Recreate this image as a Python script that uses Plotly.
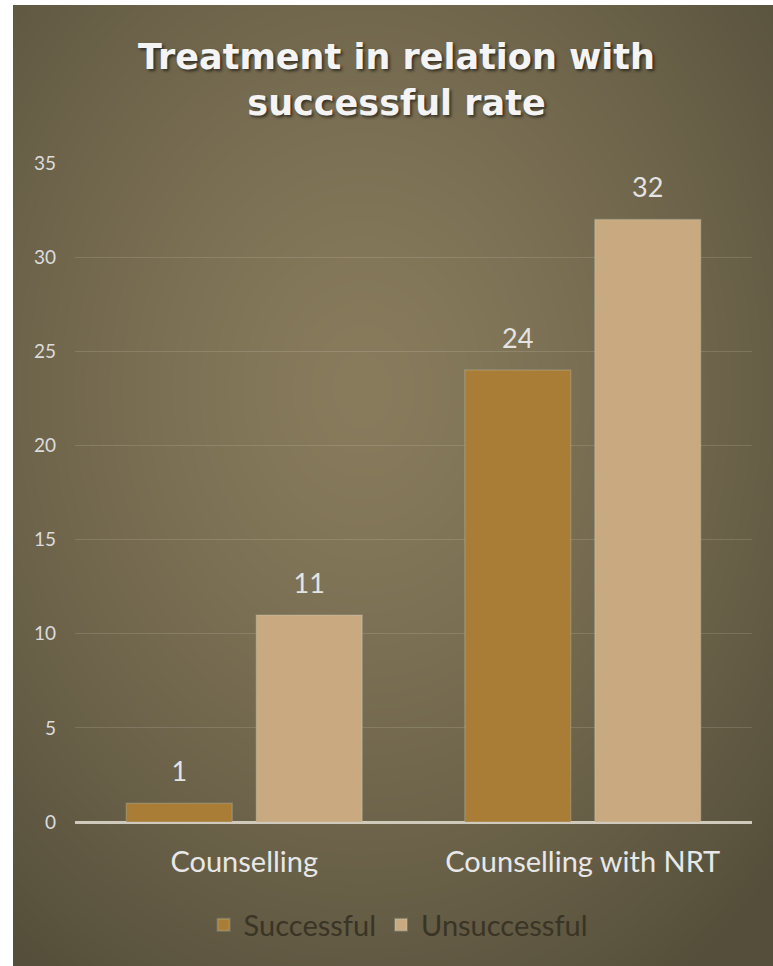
import base64
import struct
import zlib

import numpy as np
import plotly.graph_objects as go

# ---- data ----
categories = ["Counselling", "Counselling with NRT"]
successful = [1, 24]
unsuccessful = [11, 32]
y_ticks = [0, 5, 10, 15, 20, 25, 30, 35]

W, H = 773, 966
L, R, T, B = 75, 21, 163, 144  # margins


def png_data_uri(rgb):
    """Encode an HxWx3 uint8 array as a PNG data URI."""
    h, w, _ = rgb.shape
    raw = b"".join(b"\x00" + rgb[r].tobytes() for r in range(h))

    def chunk(tag, data):
        c = struct.pack(">I", len(data)) + tag + data
        return c + struct.pack(">I", zlib.crc32(tag + data) & 0xFFFFFFFF)

    png = b"\x89PNG\r\n\x1a\n"
    png += chunk(b"IHDR", struct.pack(">IIBBBBB", w, h, 8, 2, 0, 0, 0))
    png += chunk(b"IDAT", zlib.compress(raw, 9))
    png += chunk(b"IEND", b"")
    return "data:image/png;base64," + base64.b64encode(png).decode()


# radial backdrop: lighter olive centre fading to darker corners
bw, bh = W - 13, H - 5
yy, xx = np.mgrid[0:bh, 0:bw].astype(float)
d = np.sqrt(((xx - bw * 0.46) / (bw * 0.75)) ** 2 + ((yy - bh * 0.40) / (bh * 0.75)) ** 2)
d = np.clip(d, 0, 1) ** 1.3
centre = np.array([137, 124, 93], float)
edge = np.array([84, 78, 58], float)
bg = (centre[None, None, :] * (1 - d[..., None]) + edge[None, None, :] * d[..., None])
bg = bg.astype(np.uint8)
bg_uri = png_data_uri(bg)

pw, ph = W - L - R, H - T - B
glow = dict(color="rgba(200,225,215,0.22)", width=1.5)

fig = go.Figure()
fig.add_trace(go.Bar(
    name="Successful", x=categories, y=successful,
    marker=dict(color="#a97d36", line=glow),
    offsetgroup="s", alignmentgroup="g",
))
fig.add_trace(go.Bar(
    name="Unsuccessful", x=categories, y=unsuccessful,
    marker=dict(color="#c9a980", line=glow),
    offsetgroup="u", alignmentgroup="g",
))
# value labels, grouped alongside the bars (transparent markers lift the text)
for name, vals in (("s", successful), ("u", unsuccessful)):
    fig.add_trace(go.Scatter(
        x=categories, y=vals, mode="markers+text", text=[str(v) for v in vals],
        textposition="top center", offsetgroup=name, alignmentgroup="g",
        marker=dict(size=23, color="rgba(0,0,0,0)"),
        textfont=dict(family="Lato", size=27, color="#e4e4e4"),
        showlegend=False, hoverinfo="skip", cliponaxis=False,
    ))

fig.update_layout(
    width=W, height=H,
    margin=dict(l=L, r=R, t=T, b=B),
    paper_bgcolor="white",
    plot_bgcolor="rgba(0,0,0,0)",
    barmode="group", bargap=0.232, bargroupgap=0.185,
    scattermode="group", scattergap=0.232,
    font=dict(family="Lato"),
    showlegend=True,
    legend=dict(
        orientation="h", x=0.515, xref="container", xanchor="center",
        y=(H - 925) / H, yref="container", yanchor="middle",
        font=dict(family="Lato", size=29, color="#3a3426"),
        bgcolor="rgba(0,0,0,0)", itemsizing="constant",
    ),
    annotations=[dict(
        text="Treatment in relation with<br>successful rate",
        xref="paper", yref="paper",
        x=(396 - L) / pw, y=(H - B - 80) / ph,
        xanchor="center", yanchor="middle", showarrow=False,
        font=dict(family="DejaVu Sans", size=35, color="#f4f4f4", weight="bold",
                  shadow="2px 2px 3px rgba(0,0,0,0.55)"),
    )],
    images=[dict(
        source=bg_uri, xref="paper", yref="paper",
        x=(13 - L) / pw, y=(H - B - 5) / ph,
        sizex=(W - 13) / pw, sizey=(H - 5) / ph,
        xanchor="left", yanchor="top", sizing="stretch", layer="below",
    )],
)
fig.update_xaxes(
    showgrid=False, showline=False, zeroline=False, ticks="",
    tickfont=dict(family="Lato", size=29, color="#e8e8e8"),
    ticklabelstandoff=20,
)
fig.update_yaxes(
    range=[0, 35], tickvals=y_ticks, showgrid=True,
    gridcolor="rgba(255,255,255,0.13)", gridwidth=1,
    zeroline=True, zerolinecolor="#cfcabb", zerolinewidth=3,
    showline=False, ticks="",
    tickfont=dict(family="Lato", size=19, color="#dcdcdc"),
    ticklabelstandoff=18,
)

fig.write_html("out.html")
